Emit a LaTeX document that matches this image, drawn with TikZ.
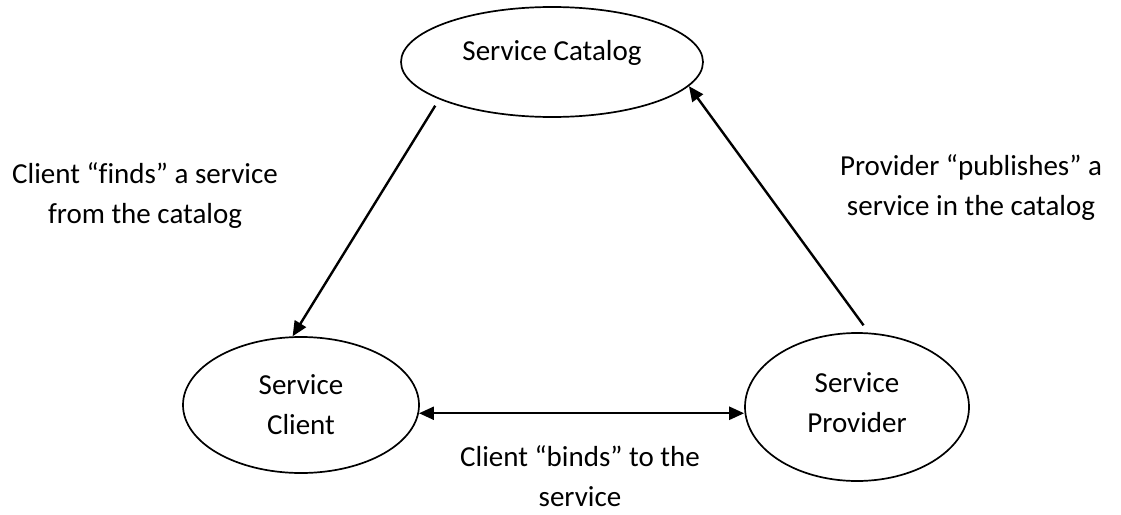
\documentclass[tikz,border=0pt]{standalone}
\usepackage{fontspec}
\setmainfont{Carlito}[Ligatures=NoCommon]
\usetikzlibrary{shapes.geometric,arrows.meta}
\begin{document}
\begin{tikzpicture}[x=1pt,y=-1pt,
  every node/.style={font=\fontsize{29}{40}\selectfont},
  box/.style={ellipse,draw,line width=1.7pt,inner sep=0pt,align=center},
  conn/.style={line width=2.4pt,-{Triangle[length=15pt,width=13pt]}},
  dconn/.style={line width=2.4pt,{Triangle[length=15pt,width=13pt]}-{Triangle[length=15pt,width=13pt]}},
  lbl/.style={align=center,inner sep=0pt}]
\useasboundingbox (0,0) rectangle (1121,514);
\node[box,minimum width=302,minimum height=110,
      label={[yshift=9pt,name=catt]center:Service Catalog}] (cat) at (552,62) {};
\node[box,minimum width=236,minimum height=136] (client) at (301,405) {Service\\Client};
\node[box,minimum width=224,minimum height=148,
      label={[yshift=4pt,align=center,name=provt]center:Service\\Provider}] (prov) at (857,407) {};
\coordinate (fs) at ([yshift=-8pt]cat.197);
\coordinate (ps) at ([yshift=7pt]prov.85);
\draw[conn] (fs) -- (client.97);
\draw[conn] (ps) -- (cat.-10);
\draw[dconn] (client.-4) -- (client.-4 -| prov.west);
\node[lbl] (findl) at (145,196) {Client “finds” a service\\from the catalog};
\node[lbl] (publ) at (971,188) {Provider “publishes” a\\service in the catalog};
\node[lbl] (bindl) at (580,476) {Client “binds” to the\\service};
\end{tikzpicture}
\end{document}
